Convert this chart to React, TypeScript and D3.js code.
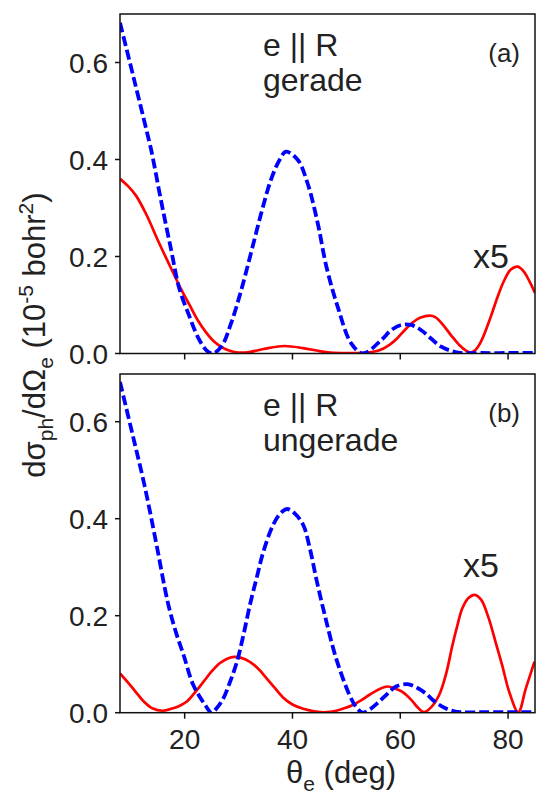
import React, { useEffect, useRef } from "react";
import * as d3 from "d3";

// panel (a): e || R, gerade
const thetaGeradeRed = [8, 9.5, 11, 13, 15, 17.2, 19.4, 21, 22.4, 24, 25.5, 27, 28.5, 30, 32, 35, 38.5, 42, 45, 47, 50, 54, 56, 58, 59.5, 60.8, 62.3, 63.8, 65.4, 66.5, 68, 69.4, 71, 72.2, 73.1, 74, 75, 76.8, 78, 79.3, 80.5, 81.8, 83, 84, 85];
const geradeRed = [0.36, 0.345, 0.325, 0.284, 0.234, 0.182, 0.131, 0.098, 0.069, 0.043, 0.024, 0.012, 0.005, 0.002, 0.003, 0.01, 0.0155, 0.011, 0.005, 0.002, 0.001, 0.002, 0.006, 0.018, 0.032, 0.048, 0.064, 0.074, 0.078, 0.075, 0.058, 0.038, 0.017, 0.006, 0.002, 0.008, 0.025, 0.076, 0.115, 0.151, 0.173, 0.179, 0.168, 0.148, 0.125];

const thetaGeradeBlue = [8, 10.5, 12.9, 13.8, 15.6, 17.5, 19, 20.9, 22.4, 24, 25.2, 26.8, 28.6, 30.5, 32.3, 34.2, 36, 37.6, 38.8, 41, 42.8, 44.7, 46.3, 48.4, 50.9, 53.1, 56.5, 58.3, 60.2, 62, 63.9, 65.7, 67.6, 70.7, 75, 80, 85];
const geradeBlue = [0.682, 0.57, 0.461, 0.419, 0.316, 0.213, 0.134, 0.076, 0.035, 0.007, 0.0, 0.014, 0.062, 0.131, 0.207, 0.289, 0.358, 0.399, 0.416, 0.399, 0.351, 0.268, 0.179, 0.096, 0.021, 0.0, 0.028, 0.048, 0.059, 0.059, 0.048, 0.031, 0.014, 0.002, 0.001, 0.001, 0.001];

// panel (b): e || R, ungerade
const thetaUngeradeRed = [8, 9.5, 10.9, 12.5, 14, 15.9, 17.5, 19, 20.4, 22, 23.5, 25, 26.5, 28, 29.2, 30.5, 32.1, 33.7, 35.2, 36.8, 38.3, 40, 42, 44, 46.3, 48.1, 49.6, 51.2, 52.8, 54.3, 56, 57.6, 59, 60.4, 62, 63.3, 64.4, 65.8, 67.2, 68.5, 69.7, 70.6, 71.5, 72.7, 73.8, 75, 76.4, 77.7, 78.9, 80.3, 81.9, 83.3, 84.9];
const ungeradeRed = [0.081, 0.062, 0.043, 0.022, 0.009, 0.004, 0.008, 0.014, 0.023, 0.043, 0.064, 0.085, 0.102, 0.112, 0.115, 0.113, 0.105, 0.09, 0.071, 0.05, 0.031, 0.017, 0.008, 0.003, 0.001, 0.004, 0.009, 0.016, 0.026, 0.037, 0.048, 0.054, 0.05, 0.043, 0.027, 0.01, 0.001, 0.012, 0.036, 0.08, 0.14, 0.18, 0.215, 0.237, 0.243, 0.233, 0.195, 0.145, 0.098, 0.04, 0.001, 0.05, 0.105];

const thetaUngeradeBlue = [8, 10.3, 12.6, 14.8, 16.9, 18.4, 19.8, 21.6, 23.8, 25, 26, 27.2, 28.4, 29.7, 30.9, 32.1, 33.4, 34.6, 36.4, 37.7, 39, 40.5, 42, 43.2, 44.4, 46, 48.1, 50.6, 51.8, 53, 54.5, 56.1, 57.7, 59.2, 61.3, 63, 64.7, 66.5, 68.4, 70, 71.5, 75, 80, 85];
const ungeradeBlue = [0.682, 0.575, 0.466, 0.345, 0.226, 0.165, 0.119, 0.057, 0.016, 0.0, 0.01, 0.03, 0.063, 0.105, 0.16, 0.222, 0.28, 0.332, 0.387, 0.41, 0.42, 0.41, 0.387, 0.34, 0.277, 0.201, 0.112, 0.036, 0.012, 0.0, 0.008, 0.023, 0.04, 0.054, 0.059, 0.052, 0.04, 0.022, 0.009, 0.003, 0.001, 0.001, 0.001, 0.001];

const xTicks = [20, 40, 60, 80];
const yTicks = [0.0, 0.2, 0.4, 0.6];

const font = "Liberation Sans, Arial, Helvetica, sans-serif";

export default function App() {
  const ref = useRef<SVGSVGElement>(null);

  useEffect(() => {
    const svg = d3.select(ref.current);
    svg.selectAll("*").remove();

    const left = 120, right = 535;
    const x = d3.scaleLinear().domain([8, 85]).range([left, right]);

    const panels = [
      { top: 14, bottom: 353.5, red: [thetaGeradeRed, geradeRed], blue: [thetaGeradeBlue, geradeBlue], sym: "gerade", tag: "(a)", labels: false, x5: [473, 268] },
      { top: 374, bottom: 712.7, red: [thetaUngeradeRed, ungeradeRed], blue: [thetaUngeradeBlue, ungeradeBlue], sym: "ungerade", tag: "(b)", labels: true, x5: [463, 577] },
    ];

    panels.forEach((p) => {
      const y = d3.scaleLinear().domain([0, 0.7]).range([p.bottom, p.bottom - 0.7 * 485]);
      const g = svg.append("g");

      const line = d3.line<[number, number]>()
        .x((d) => x(d[0]))
        .y((d) => y(d[1]))
        .curve(d3.curveCatmullRom.alpha(0.5));

      const pts = (s: number[][]) => s[0].map((t, i) => [t, s[1][i]] as [number, number]);

      // clip curves to the frame
      const clipId = "clip" + p.tag.replace(/\W/g, "");
      g.append("clipPath").attr("id", clipId)
        .append("rect").attr("x", left).attr("y", p.top).attr("width", right - left).attr("height", p.bottom - p.top);

      g.append("path")
        .attr("d", line(pts(p.red)))
        .attr("fill", "none")
        .attr("stroke", "#ff0000")
        .attr("stroke-width", 2.7)
        .attr("clip-path", `url(#${clipId})`);

      g.append("path")
        .attr("d", line(pts(p.blue)))
        .attr("fill", "none")
        .attr("stroke", "#0000ff")
        .attr("stroke-width", 3.8)
        .attr("stroke-dasharray", "10,4")
        .attr("clip-path", `url(#${clipId})`);

      // frame
      g.append("rect")
        .attr("x", left).attr("y", p.top)
        .attr("width", right - left).attr("height", p.bottom - p.top)
        .attr("fill", "none").attr("stroke", "#111").attr("stroke-width", 1.5);

      // y ticks
      yTicks.forEach((v) => {
        g.append("line").attr("x1", left - 5).attr("x2", left).attr("y1", y(v)).attr("y2", y(v))
          .attr("stroke", "#111").attr("stroke-width", 1.5);
        g.append("text").attr("x", left - 12).attr("y", y(v) + 10)
          .attr("text-anchor", "end").attr("font-size", 28).attr("font-family", font).attr("fill", "#222")
          .text(v.toFixed(1));
      });

      // x ticks
      xTicks.forEach((v) => {
        g.append("line").attr("x1", x(v)).attr("x2", x(v)).attr("y1", p.bottom).attr("y2", p.bottom + 6)
          .attr("stroke", "#111").attr("stroke-width", 1.5);
        if (p.labels) {
          g.append("text").attr("x", x(v)).attr("y", p.bottom + 36)
            .attr("text-anchor", "middle").attr("font-size", 28).attr("font-family", font).attr("fill", "#222")
            .text(v);
        }
      });

      const tx = (xx: number, yy: number, s: string, size: number, anchor = "start") =>
        g.append("text").attr("x", xx).attr("y", yy).attr("text-anchor", anchor)
          .attr("font-size", size).attr("font-family", font).attr("fill", "#222").text(s);

      tx(263, p.top + 42, "e || R", 32);
      tx(263, p.top + 77, p.sym, 32);
      tx(520, p.top + 48, p.tag, 26, "end");
      tx(p.x5[0], p.x5[1], "x5", 34);
    });

    // x axis label
    const xl = svg.append("text").attr("x", 341).attr("y", 783).attr("text-anchor", "middle")
      .attr("font-size", 31).attr("font-family", font).attr("fill", "#222");
    xl.append("tspan").text("θ");
    xl.append("tspan").attr("font-size", 21).attr("dy", 8).text("e");
    xl.append("tspan").attr("dy", -8).text(" (deg)");

    // y axis label
    const yl = svg.append("text").attr("transform", "translate(45,335) rotate(-90)")
      .attr("text-anchor", "middle").attr("font-size", 31).attr("font-family", font).attr("fill", "#222");
    yl.append("tspan").text("dσ");
    yl.append("tspan").attr("font-size", 21).attr("dy", 8).text("ph");
    yl.append("tspan").attr("dy", -8).text("/dΩ");
    yl.append("tspan").attr("font-size", 21).attr("dy", 8).text("e");
    yl.append("tspan").attr("dy", -8).text(" (10");
    yl.append("tspan").attr("font-size", 21).attr("dy", -12).text("-5");
    yl.append("tspan").attr("dy", 12).text(" bohr");
    yl.append("tspan").attr("font-size", 21).attr("dy", -12).text("2");
    yl.append("tspan").attr("dy", 12).text(")");
  }, []);

  return (
    <svg ref={ref} width={537} height={795}
      style={{ position: "absolute", left: 0, top: 0, background: "#fff" }} />
  );
}
